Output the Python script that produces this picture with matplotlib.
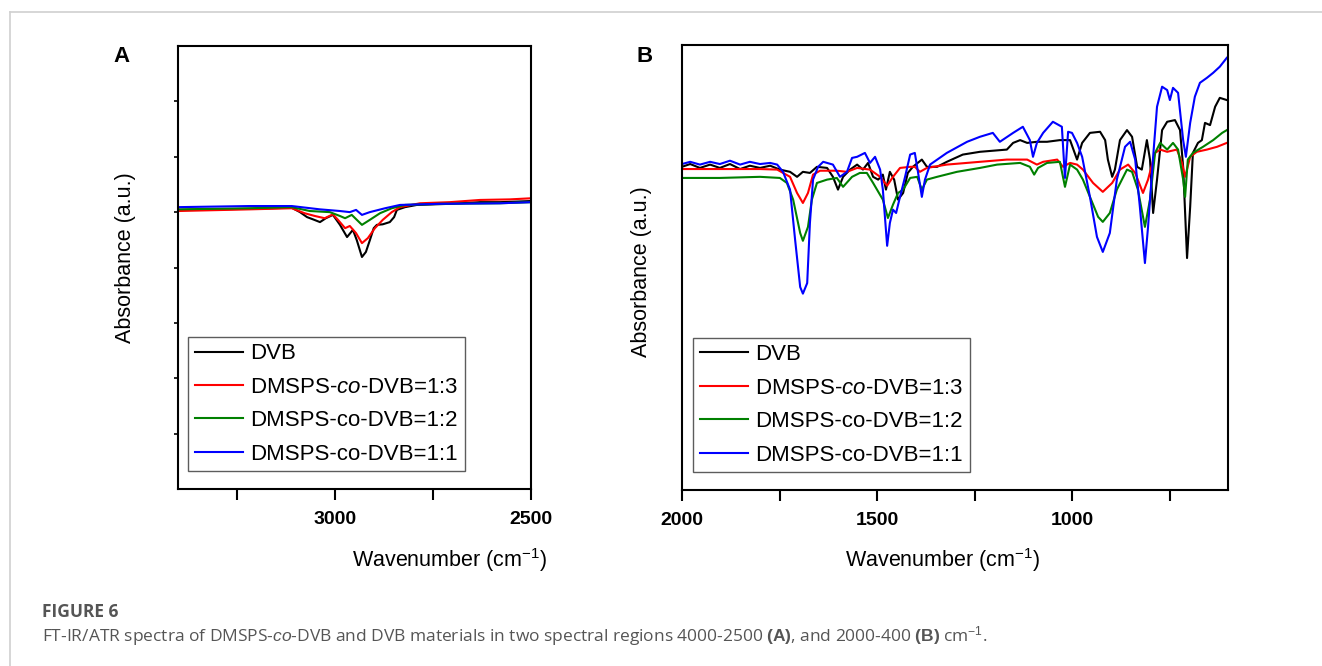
import matplotlib
matplotlib.use("Agg")
import matplotlib.pyplot as plt
from matplotlib.lines import Line2D
from matplotlib.ticker import FixedLocator, NullLocator

plt.rcParams.update(
    {
        "font.family": "Liberation Sans",
        "mathtext.fontset": "custom",
        "mathtext.rm": "Liberation Sans",
        "mathtext.it": "Liberation Sans:italic",
        "mathtext.bf": "Liberation Sans:bold",
        "axes.linewidth": 1.5,
    }
)

# ---- panel A: 3400-2500 cm-1 ----
a_dvb_w = [3400, 3217, 3110, 3089, 3071, 3056, 3038, 3023, 3005, 2987, 2969, 2954, 2944, 2931,
           2921, 2911, 2901, 2893, 2878, 2860, 2849, 2842, 2821, 2791, 2707, 2630, 2579, 2500]
a_dvb = [5.04, 5.06, 5.08, 5.00, 4.91, 4.87, 4.82, 4.89, 4.95, 4.77, 4.55, 4.68, 4.49, 4.19,
         4.28, 4.49, 4.71, 4.77, 4.78, 4.82, 4.91, 5.04, 5.09, 5.13, 5.15, 5.18, 5.18, 5.20]

a_r13_w = [3400, 3217, 3110, 3077, 3051, 3026, 3005, 2992, 2974, 2962, 2946, 2931, 2916, 2898,
           2878, 2855, 2834, 2783, 2707, 2630, 2554, 2500]
a_r13 = [5.02, 5.05, 5.07, 4.98, 4.93, 4.89, 4.96, 4.86, 4.71, 4.75, 4.62, 4.44, 4.53, 4.71,
         4.86, 5.00, 5.09, 5.16, 5.18, 5.22, 5.23, 5.25]

a_r12_w = [3400, 3217, 3110, 3064, 3013, 2987, 2974, 2957, 2931, 2911, 2885, 2855, 2821, 2732,
           2579, 2500]
a_r12 = [5.05, 5.07, 5.09, 5.02, 5.00, 4.93, 4.89, 4.95, 4.77, 4.86, 4.98, 5.07, 5.13, 5.15,
         5.16, 5.18]

a_r11_w = [3400, 3217, 3110, 3038, 2987, 2962, 2946, 2931, 2911, 2872, 2834, 2732, 2579, 2500]
a_r11 = [5.09, 5.11, 5.11, 5.05, 5.02, 5.00, 5.04, 4.95, 5.00, 5.07, 5.13, 5.15, 5.16, 5.18]

# ---- panel B: 2000-600 cm-1 ----
b_dvb_w = [2000, 1979, 1954, 1928, 1903, 1877, 1851, 1826, 1800, 1774, 1749, 1723, 1705, 1690,
           1672, 1654, 1628, 1613, 1600, 1587, 1569, 1551, 1536, 1523, 1510, 1497, 1485, 1477,
           1467, 1456, 1446, 1433, 1421, 1408, 1385, 1372, 1346, 1321, 1280, 1236, 1167, 1151,
           1133, 1115, 1090, 1064, 1031, 1005, 987, 974, 954, 928, 915, 908, 897, 890, 877, 859,
           846, 833, 821, 808, 800, 792, 782, 769, 756, 736, 723, 715, 705, 697, 690, 677, 667,
           659, 646, 633, 621, 603]
b_dvb = [5.81, 5.86, 5.79, 5.85, 5.79, 5.86, 5.77, 5.83, 5.79, 5.83, 5.76, 5.72, 5.63, 5.72,
         5.70, 5.81, 5.79, 5.63, 5.40, 5.63, 5.76, 5.85, 5.76, 5.88, 5.63, 5.58, 5.67, 5.40,
         5.72, 5.58, 5.22, 5.34, 5.70, 5.81, 5.94, 5.81, 5.81, 5.90, 6.03, 6.08, 6.12, 6.24,
         6.29, 6.24, 6.26, 6.26, 6.29, 6.29, 5.94, 6.24, 6.42, 6.44, 6.29, 5.94, 5.63, 5.76, 6.29,
         6.47, 6.35, 5.81, 5.76, 6.29, 5.94, 4.98, 5.58, 6.47, 6.62, 6.65, 6.47, 5.81, 4.17, 5.09,
         6.06, 6.24, 6.29, 6.60, 6.56, 6.89, 7.05, 7.01]

b_r13_w = [2000, 1903, 1800, 1756, 1723, 1705, 1690, 1677, 1664, 1646, 1603, 1577, 1551, 1518,
           1492, 1474, 1459, 1441, 1415, 1403, 1390, 1372, 1321, 1236, 1167, 1115, 1090, 1074,
           1038, 1023, 1005, 987, 972, 946, 921, 897, 877, 856, 838, 818, 805, 787, 774, 756,
           731, 718, 710, 697, 680, 654, 628, 603]
b_r13 = [5.77, 5.77, 5.77, 5.76, 5.63, 5.34, 5.16, 5.34, 5.67, 5.74, 5.74, 5.72, 5.79, 5.76,
         5.63, 5.47, 5.63, 5.79, 5.81, 5.81, 5.72, 5.79, 5.85, 5.90, 5.94, 5.94, 5.85, 5.90,
         5.94, 5.81, 5.88, 5.85, 5.76, 5.52, 5.36, 5.52, 5.76, 5.85, 5.70, 5.34, 5.58, 6.06,
         6.12, 6.08, 6.12, 5.88, 5.63, 5.99, 6.08, 6.12, 6.17, 6.24]

b_r12_w = [2000, 1903, 1800, 1749, 1731, 1715, 1697, 1690, 1677, 1667, 1654, 1628, 1603, 1587,
           1564, 1544, 1526, 1510, 1485, 1472, 1459, 1446, 1433, 1415, 1397, 1385, 1372, 1346,
           1295, 1236, 1192, 1133, 1108, 1097, 1087, 1064, 1031, 1018, 1005, 987, 972, 954, 933,
           921, 903, 885, 859, 846, 831, 813, 800, 787, 774, 756, 741, 728, 715, 710, 703, 690,
           664, 638, 615, 603]
b_r12 = [5.61, 5.61, 5.63, 5.61, 5.52, 5.22, 4.62, 4.48, 4.73, 5.22, 5.52, 5.58, 5.61, 5.45,
         5.63, 5.70, 5.70, 5.52, 5.22, 4.89, 5.13, 5.34, 5.40, 5.61, 5.63, 5.40, 5.58, 5.63,
         5.72, 5.79, 5.85, 5.88, 5.81, 5.67, 5.79, 5.88, 5.90, 5.45, 5.85, 5.76, 5.58, 5.27, 4.91,
         4.82, 4.98, 5.40, 5.76, 5.72, 5.40, 4.73, 5.22, 6.06, 6.24, 6.12, 6.24, 6.12, 5.58, 5.27,
         5.94, 6.06, 6.17, 6.29, 6.42, 6.47]

b_r11_w = [2000, 1979, 1954, 1928, 1903, 1877, 1851, 1826, 1800, 1774, 1756, 1741, 1723, 1710,
           1697, 1690, 1679, 1672, 1664, 1651, 1638, 1613, 1595, 1577, 1564, 1551, 1531, 1518,
           1505, 1492, 1485, 1474, 1467, 1459, 1451, 1441, 1428, 1415, 1403, 1395, 1385, 1377,
           1364, 1321, 1269, 1236, 1203, 1185, 1151, 1126, 1108, 1100, 1090, 1074, 1049, 1026,
           1018, 1010, 1000, 987, 974, 954, 936, 921, 903, 885, 864, 851, 838, 826, 813, 805, 792,
           782, 769, 756, 749, 741, 728, 715, 708, 697, 685, 672, 654, 638, 621, 603]
b_r11 = [5.86, 5.90, 5.85, 5.90, 5.86, 5.92, 5.85, 5.90, 5.86, 5.88, 5.85, 5.72, 5.40, 4.50,
         3.65, 3.53, 3.72, 4.80, 5.58, 5.81, 5.90, 5.85, 5.63, 5.72, 5.97, 5.99, 6.06, 5.88,
         5.99, 5.76, 5.40, 4.39, 4.80, 5.04, 4.98, 5.27, 5.63, 6.03, 6.06, 5.72, 5.27, 5.58,
         5.85, 6.06, 6.26, 6.35, 6.42, 6.26, 6.42, 6.53, 6.29, 5.99, 6.24, 6.42, 6.62, 6.53,
         5.61, 6.44, 6.42, 6.24, 5.99, 5.27, 4.55, 4.28, 4.62, 5.58, 6.17, 6.26, 5.94, 5.09, 4.08,
         4.73, 5.99, 6.89, 7.25, 7.19, 7.01, 7.23, 7.14, 6.29, 5.99, 6.60, 7.07, 7.32, 7.41, 7.50,
         7.61, 7.77]

labels = ["DVB", r"DMSPS-$\it{co}$-DVB=1:3", "DMSPS-co-DVB=1:2", "DMSPS-co-DVB=1:1"]
colors = ["#000000", "#ff0000", "#008000", "#0000ff"]

W, H = 1322, 666
fig = plt.figure(figsize=(W / 100, H / 100), dpi=100)


def px_axes(x0, y0, x1, y1):
    return fig.add_axes([x0 / W, 1 - y1 / H, (x1 - x0) / W, (y1 - y0) / H])


def style_axes(ax, xlim, major, minor, anchor):
    ax.set_xlim(*xlim)
    ax.set_ylim(0, 8)
    ax.xaxis.set_major_locator(FixedLocator(major))
    ax.xaxis.set_minor_locator(FixedLocator(minor))
    ax.tick_params(axis="x", which="both", direction="out", length=8, width=1.5)
    ax.tick_params(axis="x", which="major", labelsize=14, pad=8)
    for lab in ax.get_xticklabels():
        lab.set_fontweight("bold")
    leg = ax.legend(
        loc="lower left",
        bbox_to_anchor=anchor,
        fontsize=16,
        frameon=True,
        fancybox=False,
        edgecolor="#333333",
        handlelength=2.2,
        handletextpad=0.3,
        labelspacing=0.56,
        borderpad=0.3,
        borderaxespad=0,
    )
    leg.get_frame().set_linewidth(1.0)


# Panel A
axA = px_axes(178, 46, 531, 489)
for w, y, c, lab in zip([a_dvb_w, a_r13_w, a_r12_w, a_r11_w], [a_dvb, a_r13, a_r12, a_r11], colors, labels):
    axA.plot(w, y, color=c, lw=1.5, label=lab)
style_axes(axA, (3400, 2500), [3000, 2500], [3250, 2750], (0.028, 0.04))
axA.yaxis.set_major_locator(FixedLocator([1, 2, 3, 4, 5, 6, 7]))
axA.tick_params(axis="y", direction="out", length=3, width=1.2, labelleft=False)

# Panel B
axB = px_axes(682, 45, 1228, 490)
for w, y, c, lab in zip([b_dvb_w, b_r13_w, b_r12_w, b_r11_w], [b_dvb, b_r13, b_r12, b_r11], colors, labels):
    axB.plot(w, y, color=c, lw=1.5, label=lab)
style_axes(axB, (2000, 600), [2000, 1500, 1000], [1750, 1250, 750], (0.02, 0.04))
axB.yaxis.set_major_locator(NullLocator())

# axis labels and panel letters
fig.text(126 / W, 1 - 258 / H, "Absorbance (a.u.)", rotation=90, ha="center", va="center", fontsize=15.5)
fig.text(641 / W, 1 - 272 / H, "Absorbance (a.u.)", rotation=90, ha="center", va="center", fontsize=15.5)
fig.text(450 / W, 1 - 560 / H, r"Wavenumber (cm$^{-1}$)", ha="center", va="center", fontsize=15.5)
fig.text(943 / W, 1 - 560 / H, r"Wavenumber (cm$^{-1}$)", ha="center", va="center", fontsize=15.5)
fig.text(122 / W, 1 - 57 / H, "A", ha="center", va="center", fontsize=16, fontweight="bold")
fig.text(645 / W, 1 - 57 / H, "B", ha="center", va="center", fontsize=16, fontweight="bold")

# frame lines and caption
fig.add_artist(Line2D([10 / W, 1], [1 - 12 / H, 1 - 12 / H], color="#d0d0d0", lw=1.2))
fig.add_artist(Line2D([10 / W, 10 / W], [0, 1 - 12 / H], color="#d0d0d0", lw=1.2))
fig.text(42 / W, 1 - 617 / H, "FIGURE 6", ha="left", va="baseline", fontsize=12.5,
         fontweight="bold", color="#555555", family="Open Sans")
fig.text(42 / W, 1 - 641 / H,
         r"FT-IR/ATR spectra of DMSPS-$\it{co}$-DVB and DVB materials in two spectral regions "
         r"4000-2500 $\bf{(A)}$, and 2000-400 $\bf{(B)}$ cm$^{-1}$.",
         ha="left", va="baseline", fontsize=12.5, color="#555555", family="Open Sans")

fig.savefig("out.png", dpi=100)
